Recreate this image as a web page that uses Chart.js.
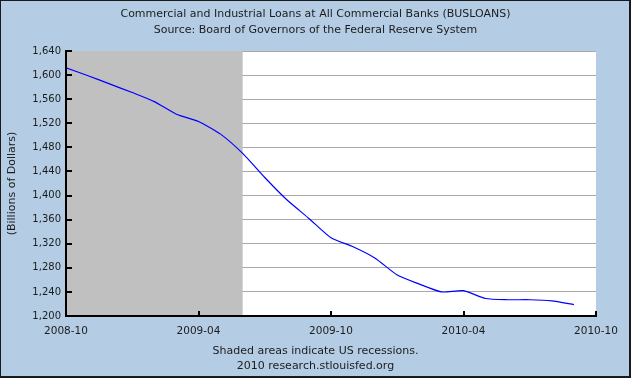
<!DOCTYPE html>
<html>
<head>
<meta charset="utf-8">
<script src="https://cdn.jsdelivr.net/npm/chart.js@4/dist/chart.umd.min.js"></script>
<style>
  html, body { margin: 0; padding: 0; background: #b4cde4; }
  #wrap { position: relative; width: 631px; height: 378px; }
</style>
</head>
<body>
<div id="wrap"><canvas id="loans" width="631" height="378"></canvas></div>
<script>
// chart text
const titleLines = [
  'Commercial and Industrial Loans at All Commercial Banks (BUSLOANS)',
  'Source: Board of Governors of the Federal Reserve System'
];
const footLines = ['Shaded areas indicate US recessions.', '2010 research.stlouisfed.org'];
const yTitle = '(Billions of Dollars)';

const months = [
  '2008-10', '2008-11', '2008-12', '2009-01', '2009-02', '2009-03',
  '2009-04', '2009-05', '2009-06', '2009-07', '2009-08', '2009-09',
  '2009-10', '2009-11', '2009-12', '2010-01', '2010-02', '2010-03',
  '2010-04', '2010-05', '2010-06', '2010-07', '2010-08', '2010-09'
];
const loans = [
  1612, 1599, 1585, 1571, 1556, 1535,
  1523, 1502, 1470, 1430, 1393, 1362,
  1330, 1315, 1296, 1268, 1253, 1240,
  1242, 1229, 1227, 1227, 1225, 1219
];

// axis ticks
const xTickLabels = ['2008-10', '2009-04', '2009-10', '2010-04', '2010-10'];
const yTicks = [1200, 1240, 1280, 1320, 1360, 1400, 1440, 1480, 1520, 1560, 1600, 1640];

// recession periods (start, end)
const recessions = [['2007-12', '2009-06']];

const FONT = 'DejaVu Sans';
const TEXT = '#1c1c1c';
const BG = '#b4cde4';

// months since the first tick label
const monthIndex = (s) => {
  const [y, m] = s.split('-').map(Number);
  const [y0, m0] = xTickLabels[0].split('-').map(Number);
  return (y - y0) * 12 + (m - m0);
};

const xMin = monthIndex(xTickLabels[0]);
const xMax = monthIndex(xTickLabels[xTickLabels.length - 1]);

const framePlugin = {
  id: 'frame',
  beforeDraw(chart) {
    const { ctx, width, height, chartArea } = chart;
    ctx.save();
    ctx.fillStyle = BG;
    ctx.fillRect(0, 0, width, height);
    ctx.fillStyle = '#ffffff';
    ctx.fillRect(chartArea.left, chartArea.top, chartArea.right - chartArea.left, chartArea.bottom - chartArea.top);
    // outer frame: thin top/left, heavier right/bottom
    ctx.fillStyle = '#1a1a1a';
    ctx.fillRect(0, 0, width, 1);
    ctx.fillRect(0, 0, 1, height);
    ctx.fillRect(width - 2, 0, 2, height);
    ctx.fillRect(0, height - 2, width, 2);

    ctx.fillStyle = TEXT;
    ctx.font = '11px "' + FONT + '"';
    ctx.textAlign = 'center';
    ctx.textBaseline = 'middle';
    ctx.fillText(titleLines[0], width / 2, 14);
    ctx.fillText(titleLines[1], width / 2, 30);
    ctx.fillText(footLines[0], width / 2, 351);
    ctx.fillText(footLines[1], width / 2, 366);
    ctx.restore();
  },
  beforeDatasetsDraw(chart) {
    const { ctx, chartArea, scales } = chart;
    ctx.save();
    ctx.fillStyle = '#c0c0c0';
    recessions.forEach(([a, b]) => {
      const x0 = Math.max(scales.x.getPixelForValue(monthIndex(a)), chartArea.left);
      const x1 = Math.min(scales.x.getPixelForValue(monthIndex(b)), chartArea.right);
      if (x1 > x0) ctx.fillRect(x0, chartArea.top, x1 - x0, chartArea.bottom - chartArea.top);
    });
    ctx.restore();
  },
  afterDatasetsDraw(chart) {
    const { ctx, chartArea, scales } = chart;
    const L = chartArea.left, B = chartArea.bottom;
    ctx.save();
    ctx.strokeStyle = '#000';
    ctx.lineWidth = 2;
    ctx.beginPath();
    ctx.moveTo(L, chartArea.top - 1);
    ctx.lineTo(L, B);
    ctx.lineTo(chartArea.right + 1, B);
    yTicks.forEach(v => {
      const y = Math.round(scales.y.getPixelForValue(v));
      ctx.moveTo(L, y);
      ctx.lineTo(L + 6, y);
    });
    xTickLabels.forEach(lbl => {
      const x = Math.round(scales.x.getPixelForValue(monthIndex(lbl)));
      ctx.moveTo(x, B);
      ctx.lineTo(x, B - 5);
    });
    ctx.stroke();
    ctx.restore();
  }
};

new Chart(document.getElementById('loans'), {
  type: 'line',
  data: {
    datasets: [{
      label: 'BUSLOANS',
      data: months.map((m, i) => ({ x: monthIndex(m), y: loans[i] })),
      borderColor: '#0000ff',
      borderWidth: 1.2,
      pointRadius: 0,
      tension: 0.2,
      fill: false,
    }],
  },
  options: {
    responsive: false,
    animation: false,
    events: [],
    layout: { padding: { left: 0, top: 51, right: 35, bottom: 0 } },
    scales: {
      x: {
        type: 'linear',
        min: xMin,
        max: xMax,
        afterFit: (scale) => { scale.height = 62; },
        afterBuildTicks: (scale) => { scale.ticks = xTickLabels.map(l => ({ value: monthIndex(l) })); },
        grid: { display: false, drawTicks: false },
        border: { display: false },
        ticks: {
          autoSkip: false,
          maxRotation: 0,
          padding: 9,
          color: TEXT,
          font: { family: FONT, size: 10.5 },
          callback: (v) => xTickLabels.find(l => monthIndex(l) === v) || '',
        },
      },
      y: {
        min: yTicks[0],
        max: yTicks[yTicks.length - 1],
        afterFit: (scale) => { scale.width = 66; },
        afterBuildTicks: (scale) => { scale.ticks = yTicks.map(v => ({ value: v })); },
        grid: { drawTicks: false, color: '#a8a8a8', lineWidth: 1 },
        border: { display: false },
        title: {
          display: true,
          text: yTitle,
          color: TEXT,
          font: { family: FONT, size: 11 },
          padding: { top: 6, bottom: 0 },
        },
        ticks: {
          padding: 5,
          color: TEXT,
          font: { family: FONT, size: 10 },
          callback: (v) => v.toLocaleString('en-US'),
        },
      },
    },
    plugins: { legend: { display: false }, tooltip: { enabled: false } },
  },
  plugins: [framePlugin],
});
</script>
</body>
</html>
